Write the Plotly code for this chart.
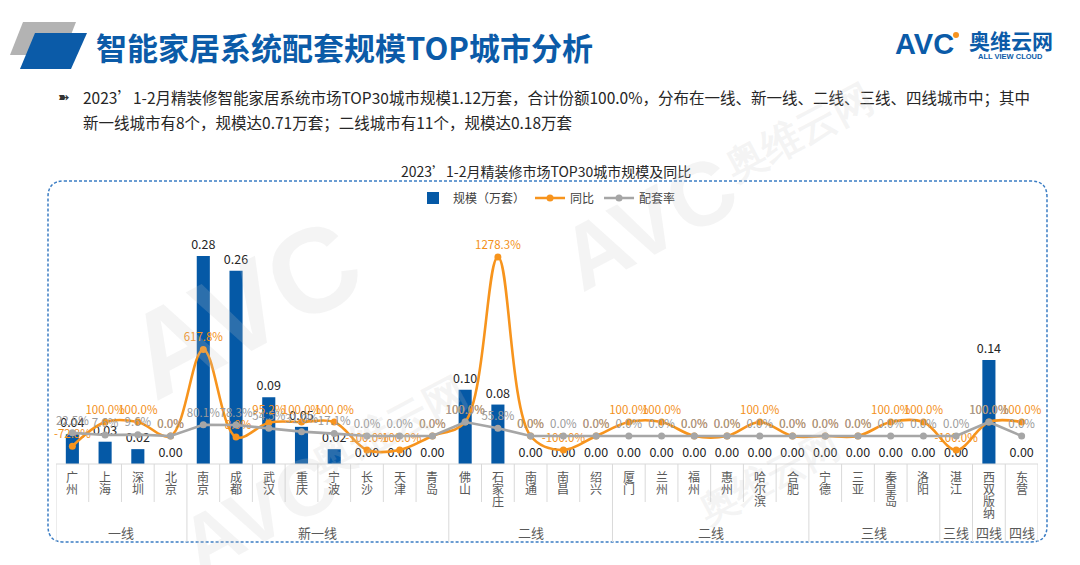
import plotly.graph_objects as go

# ---------------- data ----------------
cities = ["广州", "上海", "深圳", "北京", "南京", "成都", "武汉", "重庆", "宁波", "长沙",
          "天津", "青岛", "佛山", "石家庄", "南通", "南昌", "绍兴", "厦门", "兰州", "福州",
          "惠州", "哈尔滨", "合肥", "宁德", "三亚", "秦皇岛", "洛阳", "湛江", "西双版纳", "东营"]
scale = [0.04, 0.03, 0.02, 0.00, 0.28, 0.26, 0.09, 0.05, 0.02, 0.00,
         0.00, 0.00, 0.10, 0.08, 0.00, 0.00, 0.00, 0.00, 0.00, 0.00,
         0.00, 0.00, 0.00, 0.00, 0.00, 0.00, 0.00, 0.00, 0.14, 0.00]
yoy = [-72.8, 100.0, 100.0, 0.0, 617.8, -8.0, 95.2, 100.0, 100.0, -100.0,
       -100.0, 0.0, 100.0, 1278.3, 0.0, -100.0, 0.0, 100.0, 100.0, 0.0,
       0.0, 100.0, 0.0, 0.0, 0.0, 100.0, 100.0, -100.0, 100.0, 100.0]
rate = [22.5, 7.6, 9.6, 0.0, 80.1, 78.3, 54.5, 31.0, 17.1, 0.0,
        0.0, 0.0, 100.0, 55.8, 0.0, 0.0, 0.0, 0.0, 0.0, 0.0,
        0.0, 0.0, 0.0, 0.0, 0.0, 0.0, 0.0, 0.0, 100.0, 0.0]
tiers = ["一线", "新一线", "二线", "二线", "三线", "三线", "四线", "四线"]
tier_sizes = [4, 8, 5, 6, 4, 1, 1, 1]

title = "智能家居系统配套规模TOP城市分析"
line1 = "2023’1-2月精装修智能家居系统市场TOP30城市规模1.12万套，合计份额100.0%，分布在一线、新一线、二线、三线、四线城市中；其中"
line2 = "新一线城市有8个，规模达0.71万套；二线城市有11个，规模达0.18万套"
chart_title = "2023’1-2月精装修市场TOP30城市规模及同比"

# ---------------- layout helpers ----------------
W, H = 1080, 565
L, R, T, B = 48, 1030, 200, 456
FONT = "Noto Sans CJK SC"
BLUE = "#0559A6"
ORANGE = "#F7941D"
GRAY = "#A6A6A6"


def px(x):
    return (x - L) / (R - L)


def py(y):
    return (B - y) / (B - T)


fig = go.Figure()

fig.add_trace(go.Bar(
    x=list(range(len(cities))), y=scale, name="规模（万套）",
    marker=dict(color=BLUE, line=dict(width=0)), width=0.4,
    text=[f"{v:.2f}" for v in scale], textposition="outside",
    textfont=dict(size=12.5, color="#262626", family=FONT),
    constraintext="none", cliponaxis=False, hoverinfo="skip",
))
fig.add_trace(go.Scatter(
    x=list(range(len(cities))), y=yoy, name="同比", yaxis="y2",
    mode="lines+markers+text",
    line=dict(color=ORANGE, width=2.6, shape="spline", smoothing=1.0),
    marker=dict(color=ORANGE, size=7),
    text=[f"{v:.1f}%" for v in yoy], textposition="top center",
    textfont=dict(size=11.5, color="#F39019", family=FONT),
    cliponaxis=False, hoverinfo="skip",
))
fig.add_trace(go.Scatter(
    x=list(range(len(cities))), y=rate, name="配套率", yaxis="y2",
    mode="lines+markers+text",
    line=dict(color=GRAY, width=2.6),
    marker=dict(color=GRAY, size=7),
    text=[f"{v:.1f}%" for v in rate], textposition="top center",
    textfont=dict(size=11.5, color="#9A9A9A", family=FONT),
    cliponaxis=False, hoverinfo="skip",
))

shapes = []
annotations = []


def path(pts):
    return "M " + " L ".join(f"{px(x):.5f},{py(y):.5f}" for x, y in pts) + " Z"


# header parallelograms
shapes.append(dict(type="path", xref="paper", yref="paper",
                   path=path([(15, 14), (68, 14), (55, 47), (2, 47)]),
                   fillcolor="#B3B3B3", line=dict(width=0), layer="above"))
shapes.append(dict(type="path", xref="paper", yref="paper",
                   path=path([(27, 25), (79, 25), (63, 61), (12, 61)]),
                   fillcolor="#0B5BA8", line=dict(width=0), layer="above"))

annotations.append(dict(xref="paper", yref="paper", x=px(86), y=py(38), xanchor="left", yanchor="middle",
                        text=f"<b>{title}</b>", showarrow=False,
                        font=dict(size=31, color="#0B5BA8", family=FONT)))

# logo
annotations.append(dict(xref="paper", yref="paper", x=px(916), y=py(36), xanchor="center", yanchor="middle",
                        text="<b>AVC</b>", showarrow=False,
                        font=dict(size=29, color="#0B5BA8", family="Liberation Sans")))
shapes.append(dict(type="circle", xref="paper", yref="paper",
                   x0=px(945), x1=px(951), y0=py(24), y1=py(30),
                   fillcolor="#F7931E", line=dict(width=0)))
annotations.append(dict(xref="paper", yref="paper", x=px(1003), y=py(32), xanchor="center", yanchor="middle",
                        text="<b>奥维云网</b>", showarrow=False,
                        font=dict(size=21, color="#0B5BA8", family=FONT)))
annotations.append(dict(xref="paper", yref="paper", x=px(1002), y=py(48), xanchor="center", yanchor="middle",
                        text="<b>ALL VIEW CLOUD</b>", showarrow=False,
                        font=dict(size=7.5, color="#0B5BA8", family="Liberation Sans")))

# bullet text
annotations.append(dict(xref="paper", yref="paper", x=px(56), y=py(89), xanchor="center", yanchor="middle",
                        text="➽", showarrow=False, font=dict(size=14, color="#333333", family="DejaVu Sans")))
annotations.append(dict(xref="paper", yref="paper", x=px(73), y=py(89), xanchor="left", yanchor="middle",
                        text=line1, showarrow=False, font=dict(size=15.5, color="#262626", family=FONT)))
annotations.append(dict(xref="paper", yref="paper", x=px(73), y=py(114), xanchor="left", yanchor="middle",
                        text=line2, showarrow=False, font=dict(size=15.5, color="#262626", family=FONT)))

# chart title
annotations.append(dict(xref="paper", yref="paper", x=px(538), y=py(163), xanchor="center", yanchor="middle",
                        text=chart_title, showarrow=False, font=dict(size=14, color="#262626", family=FONT)))

# watermarks (faint)
wm = "rgba(200,200,200,0.2)"
for (x, y, t, s) in [(235, 300, "<b>AVC</b>", 120), (380, 420, "<b>奥维云网</b>", 42),
                     (640, 215, "<b>AVC</b>", 90), (790, 125, "<b>奥维云网</b>", 40),
                     (250, 505, "<b>AVC</b>", 80), (760, 470, "<b>奥维云网</b>", 38)]:
    annotations.append(dict(xref="paper", yref="paper", x=px(x), y=py(y), xanchor="center", yanchor="middle",
                            text=t, showarrow=False, textangle=-28,
                            font=dict(size=s, color=wm, family="Liberation Sans")))

# dashed rounded border
x0, x1, y0, y1, r = 40, 1039, 173, 534, 16


def P(x, y):
    return f"{px(x):.5f},{py(y):.5f}"


border = (f"M {P(x0 + r, y0)} L {P(x1 - r, y0)} Q {P(x1, y0)} {P(x1, y0 + r)} "
          f"L {P(x1, y1 - r)} Q {P(x1, y1)} {P(x1 - r, y1)} L {P(x0 + r, y1)} "
          f"Q {P(x0, y1)} {P(x0, y1 - r)} L {P(x0, y0 + r)} Q {P(x0, y0)} {P(x0 + r, y0)}")
shapes.append(dict(type="path", xref="paper", yref="paper", path=border,
                   line=dict(color="#3B7DC4", width=1.5, dash="3px,2px")))

# category axis lines
grid = "#D9D9D9"
shapes.append(dict(type="line", xref="x", yref="paper", x0=-0.5, x1=len(cities) - 0.5,
                   y0=0, y1=0, line=dict(color=grid, width=1)))
bounds = [-0.5]
acc = -0.5
for n in tier_sizes:
    acc += n
    bounds.append(acc)
for i in range(len(cities) + 1):
    xb = i - 0.5
    full = any(abs(xb - b) < 1e-9 for b in bounds)
    shapes.append(dict(type="line", xref="x", yref="paper", x0=xb, x1=xb,
                       y0=0, y1=py(534 if full else 494), line=dict(color=grid, width=1)))

# city labels (vertical stacked characters)
for i, c in enumerate(cities):
    for j, ch in enumerate(c):
        annotations.append(dict(xref="x", yref="paper", x=i, y=py(468 + 12.3 * j),
                                xanchor="center", yanchor="middle", text=ch, showarrow=False,
                                font=dict(size=12, color="#595959", family=FONT)))

# tier labels
start = 0
for name, n in zip(tiers, tier_sizes):
    annotations.append(dict(xref="x", yref="paper", x=start + (n - 1) / 2, y=py(524),
                            xanchor="center", yanchor="middle", text=name, showarrow=False,
                            font=dict(size=13, color="#595959", family=FONT)))
    start += n

px_per_unit = 743.0
px_per_pct = 0.14
zero2 = 28

fig.update_layout(
    width=W, height=H, autosize=False,
    margin=dict(l=L, r=W - R, t=T, b=H - B, pad=0),
    paper_bgcolor="white", plot_bgcolor="white",
    font=dict(family=FONT, color="#404040"),
    barmode="overlay",
    xaxis=dict(type="linear", range=[-0.5, len(cities) - 0.5], showticklabels=False,
               showgrid=False, zeroline=False, showline=False, ticks=""),
    yaxis=dict(range=[0, (B - T) / px_per_unit], visible=False, showgrid=False, zeroline=False),
    yaxis2=dict(range=[-zero2 / px_per_pct, ((B - T) - zero2) / px_per_pct], overlaying="y",
                visible=False, showgrid=False, zeroline=False),
    legend=dict(orientation="h", x=0.5, xanchor="center", y=py(190), yanchor="middle",
                font=dict(size=12, color="#404040", family=FONT), bgcolor="rgba(0,0,0,0)",
                itemwidth=30, traceorder="normal"),
    showlegend=True,
    shapes=shapes,
    annotations=annotations,
)

fig.write_html("out.html")
